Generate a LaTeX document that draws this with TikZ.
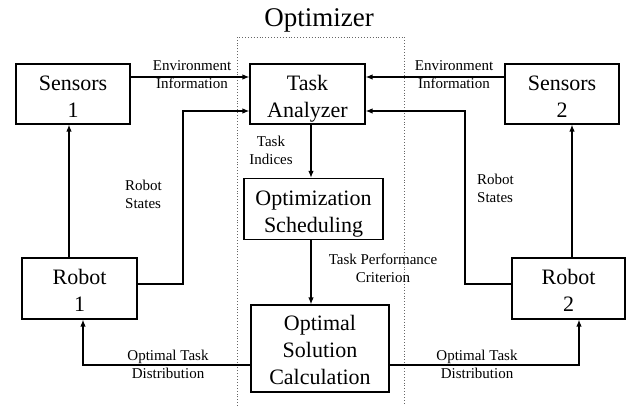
\documentclass[tikz,border=0pt]{standalone}
\usepackage{fontspec}
\setmainfont{LiberationSerif}[Extension=.ttf,UprightFont=*-Regular,BoldFont=*-Bold,ItalicFont=*-Italic]
\usetikzlibrary{arrows.meta,calc}
% block text: centred lines, set a little below the box centre
\newcommand\lowtext[2][5pt]{\raisebox{-#1}[\height][\depth]{\begin{tabular}{@{}c@{}}#2\end{tabular}}}
\tikzset{
  blockbox/.style={draw, line width=1.1pt, inner sep=0pt,
    font=\rmfamily\fontsize{22}{27}\selectfont},
  lbl/.style={inner sep=0pt, align=center, font=\rmfamily\fontsize{15}{18}\selectfont},
  arr/.style={line width=1.5pt, -{Latex[length=7pt,width=5.5pt]}},
  frame/.style={dotted, line width=0.9pt, black!60}
}
\begin{document}
\begin{tikzpicture}[x=1pt,y=-1pt]
\useasboundingbox (0,0) rectangle (626,406);

% optimizer frame and title
\draw[frame] (237,406) -- (237,37) -- (404,37) -- (404,406);
\node[inner sep=0pt, font=\rmfamily\fontsize{27}{32}\selectfont] (title) at (319,20) {Optimizer};

% blocks
\node[blockbox, minimum width=114pt, minimum height=60pt] (s1) at (73,94) {\lowtext{Sensors\\1}};
\node[blockbox, minimum width=115pt, minimum height=60pt] (ta) at (307.5,94) {\lowtext{Task\\Analyzer}};
\node[blockbox, minimum width=114pt, minimum height=60pt] (s2) at (562,94) {\lowtext{Sensors\\2}};
\node[blockbox, minimum width=139pt, minimum height=61pt] (osch) at (313.5,209) {\lowtext{Optimization\\Scheduling}};
\node[blockbox, minimum width=138pt, minimum height=87pt] (osol) at (320,348.5) {\lowtext[3.5pt]{Optimal\\Solution\\Calculation}};
\node[blockbox, minimum width=115pt, minimum height=61pt] (r1) at (79.5,288.5) {\lowtext[4pt]{Robot\\1}};
\node[blockbox, minimum width=113pt, minimum height=61pt] (r2) at (568.5,288.5) {\lowtext[4pt]{Robot\\2}};

% routing points
\coordinate (xc) at (311,0);
\coordinate (xl1) at (69,0);
\coordinate (xl2) at (83,0);
\coordinate (xr1) at (572,0);
\coordinate (xr2) at (579,0);
\coordinate (yenv) at (0,77);
\coordinate (yst) at (0,111);
\coordinate (yrs) at (0,284);
\coordinate (ydist) at (0,365);
\coordinate (bl) at (183,0);
\coordinate (br) at (465,0);

% environment information
\draw[arr] (s1.east |- yenv) -- (ta.west |- yenv);
\draw[arr] (s2.west |- yenv) -- (ta.east |- yenv);
\node[lbl] (envl) at (192,75) {Environment\\Information};
\node[lbl] (envr) at (454,75) {Environment\\Information};

% robot states
\draw[arr] (r1.east |- yrs) -| (bl |- yst) -- (ta.west |- yst);
\draw[arr] (r2.west |- yrs) -| (br |- yst) -- (ta.east |- yst);
\node[lbl, align=left, anchor=west] (stl) at (125,194) {Robot\\States};
\node[lbl, align=left, anchor=west] (str) at (477,188) {Robot\\States};

% robots to sensors
\draw[arr] (r1.north -| xl1) -- (s1.south -| xl1);
\draw[arr] (r2.north -| xr1) -- (s2.south -| xr1);

% inner chain
\draw[arr] (ta.south -| xc) -- (osch.north -| xc);
\node[lbl] (ti) at (271,150.5) {Task\\Indices};
\draw[arr] (osch.south -| xc) -- (osol.north -| xc);
\node[lbl] (tpc) at (383,268) {Task Performance\\Criterion};

% optimal task distribution
\draw[arr] (osol.west |- ydist) -| (r1.south -| xl2);
\draw[arr] (osol.east |- ydist) -| (r2.south -| xr2);
\node[lbl] (odl) at (168,364) {Optimal Task\\Distribution};
\node[lbl] (odr) at (477,364) {Optimal Task\\Distribution};
\end{tikzpicture}
\end{document}
